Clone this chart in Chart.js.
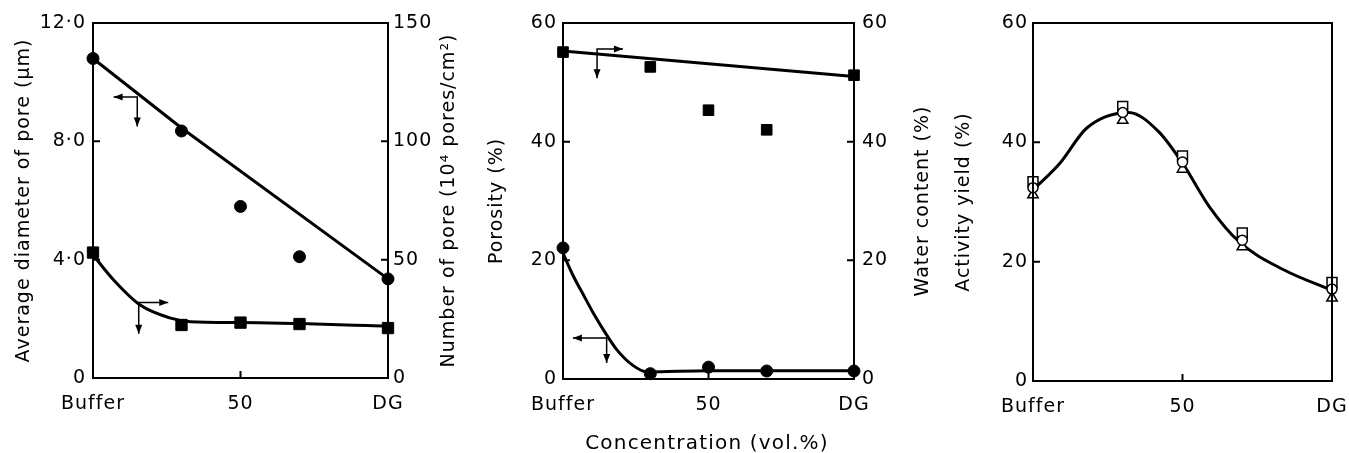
<!DOCTYPE html>
<html>
<head>
<meta charset="utf-8">
<script src="https://cdn.jsdelivr.net/npm/chart.js@4.4.0/dist/chart.umd.min.js"></script>
<style>
  body { margin: 0; background: #fff; width: 1349px; height: 453px; overflow: hidden; position: relative; font-family: "DejaVu Sans"; }
  .panel { position: absolute; top: 0; height: 453px; }
  #xTitle { position: absolute; top: 430px; left: 457px; width: 500px; text-align: center; font-size: 20px; letter-spacing: 1.2px; color: #000; }
</style>
</head>
<body>
<div class="panel" style="left:0;width:465px"><canvas id="chart1"></canvas></div>
<div class="panel" style="left:465px;width:475px"><canvas id="chart2"></canvas></div>
<div class="panel" style="left:940px;width:409px"><canvas id="chart3"></canvas></div>
<div id="xTitle">Concentration (vol.%)</div>

<script>
// Concentración (vol.%): Buffer = 0, DG = 100
const concentrations = [0, 30, 50, 70, 100];
const xTickValues = [0, 50, 100];
const xTickLabels = ['Buffer', '50', 'DG'];

// Panel 1: diámetro medio del poro (µm) y número de poros (10^4 poros/cm2)
const poreDiameter = [10.8, 8.35, 5.8, 4.1, 3.35];
const poreNumber = [53, 22.4, 23.4, 22.8, 21.1];
const diameterFitX = [0, 30, 100];
const diameterFit = [10.8, 8.45, 3.35];
const numberFitX = [0, 7, 16, 26, 33, 50, 100];
const numberFit = [52, 41.4, 30.8, 25.4, 23.8, 23.4, 22.0];
const diameterTicks = ['0', '4·0', '8·0', '12·0'];
const numberTicks = ['0', '50', '100', '150'];

// Panel 2: porosidad (%) y contenido de agua (%)
const porosity = [22.1, 0.9, 2.0, 1.35, 1.35];
const waterContent = [55.1, 52.6, 45.3, 42.0, 51.2];
const porosityFitX = [0, 3.5, 7, 10.3, 14, 18.4, 24, 29, 50, 100];
const porosityFit = [21.2, 17.4, 14.2, 11.2, 8.2, 5.0, 2.3, 1.2, 1.4, 1.4];
const waterFitX = [0, 100];
const waterFit = [55.3, 51.0];
const percentTicks = ['0', '20', '40', '60'];

// Panel 3: rendimiento de actividad (%)
const yieldSquares = [33.4, 46.0, 37.7, 24.8, 16.5];
const yieldCircles = [32.4, 45.0, 36.7, 23.6, 15.4];
const yieldTriangles = [31.2, 43.7, 35.5, 22.5, 13.9];
const yieldFitX = [0, 9, 18, 32, 42, 50, 59, 69, 84, 100];
const yieldFit = [32, 36.5, 42.4, 45.0, 41.8, 36.5, 29.2, 23.3, 18.6, 15.2];

const FONT = { family: 'DejaVu Sans', size: 19 };

function pts(xs, ys) {
    return xs.map((x, i) => ({ x: x, y: ys[i] }));
}

function xAxis(h) {
    return {
        type: 'linear', min: 0, max: 100, position: 'bottom',
        afterBuildTicks: s => { s.ticks = xTickValues.map(v => ({ value: v })); },
        afterFit: s => { s.height = h; s.paddingLeft = 0; s.paddingRight = 0; },
        grid: { display: false, drawTicks: false },
        border: { display: false },
        ticks: {
            padding: 15, color: '#000', font: FONT, maxRotation: 0, autoSkip: false,
            callback: v => xTickLabels[xTickValues.indexOf(v)]
        }
    };
}

function yAxis(pos, max, step, labels, w, pad) {
    return {
        type: 'linear', position: pos, min: 0, max: max,
        afterFit: s => { s.width = w; },
        grid: { display: false, drawTicks: false },
        border: { display: false },
        ticks: {
            stepSize: step, padding: pad, color: '#000', font: FONT,
            callback: v => labels[Math.round(v / step)]
        }
    };
}

// Marco, marcas hacia dentro, flechas y títulos de ejes
const marcoPlugin = {
    id: 'marco',
    beforeDraw(chart) {
        chart.ctx.letterSpacing = '1px';
    },
    afterDraw(chart, args, opts) {
        const { ctx, chartArea: a, scales } = chart;
        ctx.save();
        ctx.strokeStyle = '#000';
        ctx.fillStyle = '#000';
        ctx.lineWidth = 2;
        ctx.strokeRect(a.left, a.top, a.right - a.left, a.bottom - a.top);

        ctx.beginPath();
        scales.x.ticks.forEach(t => {
            const px = scales.x.getPixelForValue(t.value);
            ctx.moveTo(px, a.bottom);
            ctx.lineTo(px, a.bottom - 7);
        });
        ['y', 'y1'].forEach(id => {
            const s = scales[id];
            if (!s) return;
            const x0 = s.position === 'left' ? a.left : a.right;
            const dir = s.position === 'left' ? 1 : -1;
            s.ticks.forEach(t => {
                const py = s.getPixelForValue(t.value);
                ctx.moveTo(x0, py);
                ctx.lineTo(x0 + dir * 7, py);
            });
        });
        ctx.stroke();

        // flechas que indican el eje de cada curva
        ctx.lineWidth = 1.5;
        (opts.arrows || []).forEach(ar => {
            const s = scales[ar.axis];
            const cx = scales.x.getPixelForValue(ar.x), cy = s.getPixelForValue(ar.y);
            const hx = scales.x.getPixelForValue(ar.hx), vy = s.getPixelForValue(ar.vy);
            ctx.beginPath();
            ctx.moveTo(hx, cy); ctx.lineTo(cx, cy); ctx.lineTo(cx, vy);
            ctx.stroke();
            const d = hx < cx ? -1 : 1;
            ctx.beginPath();
            ctx.moveTo(hx, cy); ctx.lineTo(hx - d * 9, cy - 3.5); ctx.lineTo(hx - d * 9, cy + 3.5);
            ctx.closePath(); ctx.fill();
            ctx.beginPath();
            ctx.moveTo(cx, vy); ctx.lineTo(cx - 3.5, vy - 9); ctx.lineTo(cx + 3.5, vy - 9);
            ctx.closePath(); ctx.fill();
        });

        // títulos de ejes, todos leídos de abajo hacia arriba
        ctx.font = '19px "DejaVu Sans"';
        ctx.textAlign = 'center';
        ctx.textBaseline = 'middle';
        (opts.titles || []).forEach(t => {
            ctx.save();
            ctx.translate(t.x, (a.top + a.bottom) / 2);
            ctx.rotate(-Math.PI / 2);
            ctx.fillText(t.text, 0, 0);
            ctx.restore();
        });
        ctx.restore();
    }
};

function baseOptions(scales, padding, marco) {
    return {
        responsive: true, maintainAspectRatio: false, animation: false,
        layout: { padding: padding },
        plugins: { legend: { display: false }, tooltip: { enabled: false }, marco: marco },
        scales: scales
    };
}

const black = '#000';

// Panel 1
new Chart(document.getElementById('chart1'), {
    type: 'scatter',
    data: {
        datasets: [
            { data: pts(concentrations, poreDiameter), yAxisID: 'y', pointStyle: 'circle', pointRadius: 6, backgroundColor: black, borderColor: black, clip: false },
            { data: pts(concentrations, poreNumber), yAxisID: 'y1', pointStyle: 'rect', pointRadius: 8, backgroundColor: black, borderColor: black, clip: false },
            { data: pts(diameterFitX, diameterFit), yAxisID: 'y', showLine: true, pointRadius: 0, borderColor: black, borderWidth: 3, clip: false },
            { data: pts(numberFitX, numberFit), yAxisID: 'y1', showLine: true, pointRadius: 0, borderColor: black, borderWidth: 3, cubicInterpolationMode: 'monotone', clip: false }
        ]
    },
    options: baseOptions({
        x: xAxis(75),
        y: yAxis('left', 12, 4, diameterTicks, 93, 7),
        y1: yAxis('right', 150, 50, numberTicks, 77, 5)
    }, { top: 23, left: 0, right: 0, bottom: 0 }, {
        arrows: [
            { axis: 'y', x: 15, y: 9.5, hx: 7, vy: 8.5 },
            { axis: 'y', x: 15.5, y: 2.55, hx: 25.5, vy: 1.5 }
        ],
        titles: [
            { text: 'Average diameter of pore (µm)', x: 24 },
            { text: 'Number of pore (10⁴ pores/cm²)', x: 449 }
        ]
    }),
    plugins: [marcoPlugin]
});

// Panel 2
new Chart(document.getElementById('chart2'), {
    type: 'scatter',
    data: {
        datasets: [
            { data: pts(concentrations, porosity), yAxisID: 'y', pointStyle: 'circle', pointRadius: 6, backgroundColor: black, borderColor: black, clip: false },
            { data: pts(concentrations, waterContent), yAxisID: 'y1', pointStyle: 'rect', pointRadius: 7.5, backgroundColor: black, borderColor: black, clip: false },
            { data: pts(porosityFitX, porosityFit), yAxisID: 'y', showLine: true, pointRadius: 0, borderColor: black, borderWidth: 3, cubicInterpolationMode: 'monotone', clip: false },
            { data: pts(waterFitX, waterFit), yAxisID: 'y1', showLine: true, pointRadius: 0, borderColor: black, borderWidth: 3, clip: false }
        ]
    },
    options: baseOptions({
        x: xAxis(74),
        y: yAxis('left', 60, 20, percentTicks, 98, 6),
        y1: yAxis('right', 60, 20, percentTicks, 86, 8)
    }, { top: 23, left: 0, right: 0, bottom: 0 }, {
        arrows: [
            { axis: 'y1', x: 11.7, y: 55.6, hx: 20.6, vy: 50.7 },
            { axis: 'y', x: 15, y: 6.9, hx: 3.4, vy: 2.7 }
        ],
        titles: [
            { text: 'Porosity (%)', x: 32 },
            { text: 'Water content (%)', x: 458 }
        ]
    }),
    plugins: [marcoPlugin]
});

// Panel 3
new Chart(document.getElementById('chart3'), {
    type: 'scatter',
    data: {
        datasets: [
            { data: pts(concentrations, yieldCircles), pointStyle: 'circle', pointRadius: 5, borderWidth: 1.5, backgroundColor: '#fff', borderColor: black, order: 1, clip: false },
            { data: pts(concentrations, yieldSquares), pointStyle: 'rect', pointRadius: 7, borderWidth: 1.5, backgroundColor: '#fff', borderColor: black, order: 2, clip: false },
            { data: pts(concentrations, yieldTriangles), pointStyle: 'triangle', pointRadius: 6, borderWidth: 1.5, backgroundColor: '#fff', borderColor: black, order: 3, clip: false },
            { data: pts(yieldFitX, yieldFit), showLine: true, pointRadius: 0, borderColor: black, borderWidth: 3, cubicInterpolationMode: 'monotone', order: 4, clip: false }
        ]
    },
    options: baseOptions({
        x: xAxis(72),
        y: yAxis('left', 60, 20, percentTicks, 93, 5)
    }, { top: 23, left: 0, right: 17, bottom: 0 }, {
        titles: [
            { text: 'Activity yield (%)', x: 24 }
        ]
    }),
    plugins: [marcoPlugin]
});
</script>
</body>
</html>
